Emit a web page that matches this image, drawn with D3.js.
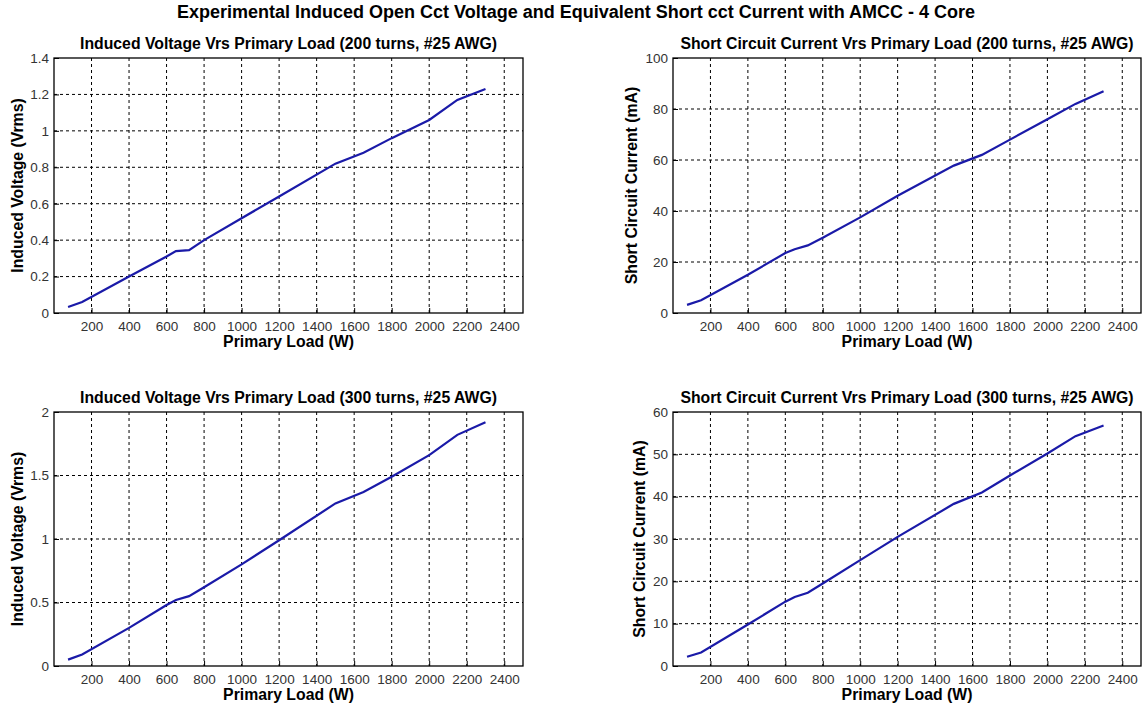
<!DOCTYPE html>
<meta charset="utf-8">
<style>
body { margin: 0; background: #fff; }
text { font-family: "Liberation Sans", Arial, sans-serif; }
.grid line { stroke: #000; stroke-dasharray: 3,3; stroke-width: 1; }
.tick text { fill: #333; font-size: 13.5px; }
</style>
<svg width="1145" height="708"></svg>
<script src="https://d3js.org/d3.v7.min.js"></script>
<script>

// primary load (W) readings
var load = [75, 150, 400, 600, 650, 720, 800, 1000, 1200, 1500, 1650, 1800, 2000, 2150, 2300];

// 200 turns
var volt200 = [0.033, 0.06, 0.2, 0.31, 0.34, 0.345, 0.40, 0.52, 0.64, 0.82, 0.88, 0.96, 1.06, 1.17, 1.23];
var curr200 = [3.2, 5, 15, 23.5, 25, 26.5, 29.5, 37.5, 46, 57.8, 62, 68, 76, 82, 87];

// 300 turns
var volt300 = [0.05, 0.09, 0.3, 0.48, 0.52, 0.55, 0.62, 0.80, 0.99, 1.28, 1.37, 1.49, 1.66, 1.82, 1.92];
var curr300 = [2.2, 3.2, 9.8, 15.2, 16.3, 17.3, 19.5, 25, 30.5, 38.3, 41, 45, 50.2, 54.3, 56.8];

var xTicks = d3.range(200, 2401, 200);

var panels = [
  {title: "Induced Voltage Vrs Primary Load (200 turns, #25 AWG)", ylab: "Induced Voltage (Vrms)",
   y: volt200, ymax: 1.4, yticks: d3.range(0, 1.41, 0.2), left: 54, right: 523, top: 58, bottom: 313, ylx: 17},
  {title: "Short Circuit Current Vrs Primary Load (200 turns, #25 AWG)", ylab: "Short Circuit Current (mA)",
   y: curr200, ymax: 100, yticks: d3.range(0, 101, 20), left: 673, right: 1141, top: 58, bottom: 313, ylx: 631},
  {title: "Induced Voltage Vrs Primary Load (300 turns, #25 AWG)", ylab: "Induced Voltage (Vrms)",
   y: volt300, ymax: 2, yticks: d3.range(0, 2.01, 0.5), left: 54, right: 523, top: 412, bottom: 666, ylx: 17},
  {title: "Short Circuit Current Vrs Primary Load (300 turns, #25 AWG)", ylab: "Short Circuit Current (mA)",
   y: curr300, ymax: 60, yticks: d3.range(0, 61, 10), left: 673, right: 1141, top: 412, bottom: 666, ylx: 639}
];

var svg = d3.select("svg");

svg.append("text")
    .attr("x", 576).attr("y", 18)
    .attr("text-anchor", "middle")
    .style("font-size", "18px").style("font-weight", "bold")
    .text("Experimental Induced Open Cct Voltage and Equivalent Short cct Current with AMCC - 4 Core");

panels.forEach(function(p) {
  var w = p.right - p.left, h = p.bottom - p.top;
  var x = d3.scaleLinear().domain([0, 2500]).range([0, w]);
  var y = d3.scaleLinear().domain([0, p.ymax]).range([h, 0]);

  var g = svg.append("g").attr("transform", "translate(" + p.left + "," + p.top + ")");

  // grid
  var grid = g.append("g").attr("class", "grid");
  grid.selectAll(".gx").data(xTicks).enter().append("line")
      .attr("x1", x).attr("x2", x).attr("y1", 0).attr("y2", h);
  grid.selectAll(".gy").data(p.yticks.slice(1, -1)).enter().append("line")
      .attr("x1", 0).attr("x2", w).attr("y1", y).attr("y2", y);

  // axes with inward ticks
  var xa = g.append("g").attr("transform", "translate(0," + h + ")")
      .call(d3.axisBottom(x).tickValues(xTicks).tickFormat(d3.format("d")).tickSizeInner(-5).tickSizeOuter(0).tickPadding(8));
  var ya = g.append("g")
      .call(d3.axisLeft(y).tickValues(p.yticks).tickFormat(d3.format("~g")).tickSizeInner(-5).tickSizeOuter(0).tickPadding(5));
  [xa, ya].forEach(function(a) {
    a.select(".domain").remove();
    a.selectAll(".tick line").attr("stroke", "#000");
  });

  // box
  g.append("rect").attr("width", w).attr("height", h)
      .attr("fill", "none").attr("stroke", "#000").attr("stroke-width", 1.3);

  // line
  var line = d3.line().x(function(d, i) { return x(load[i]); }).y(function(d) { return y(d); });
  g.append("path").datum(p.y)
      .attr("d", line)
      .attr("fill", "none").attr("stroke", "#1a1aa8").attr("stroke-width", 2.2);

  // titles
  g.append("text").attr("x", w / 2).attr("y", -9)
      .attr("text-anchor", "middle")
      .style("font-size", "15.8px").style("font-weight", "bold")
      .text(p.title);
  g.append("text").attr("x", w / 2).attr("y", h + 34)
      .attr("text-anchor", "middle")
      .style("font-size", "15.8px").style("font-weight", "bold")
      .text("Primary Load (W)");
  svg.append("text")
      .attr("transform", "translate(" + (p.ylx + 6) + "," + (p.top + h / 2) + ") rotate(-90)")
      .attr("text-anchor", "middle")
      .style("font-size", "15.8px").style("font-weight", "bold")
      .text(p.ylab);
});

</script>
